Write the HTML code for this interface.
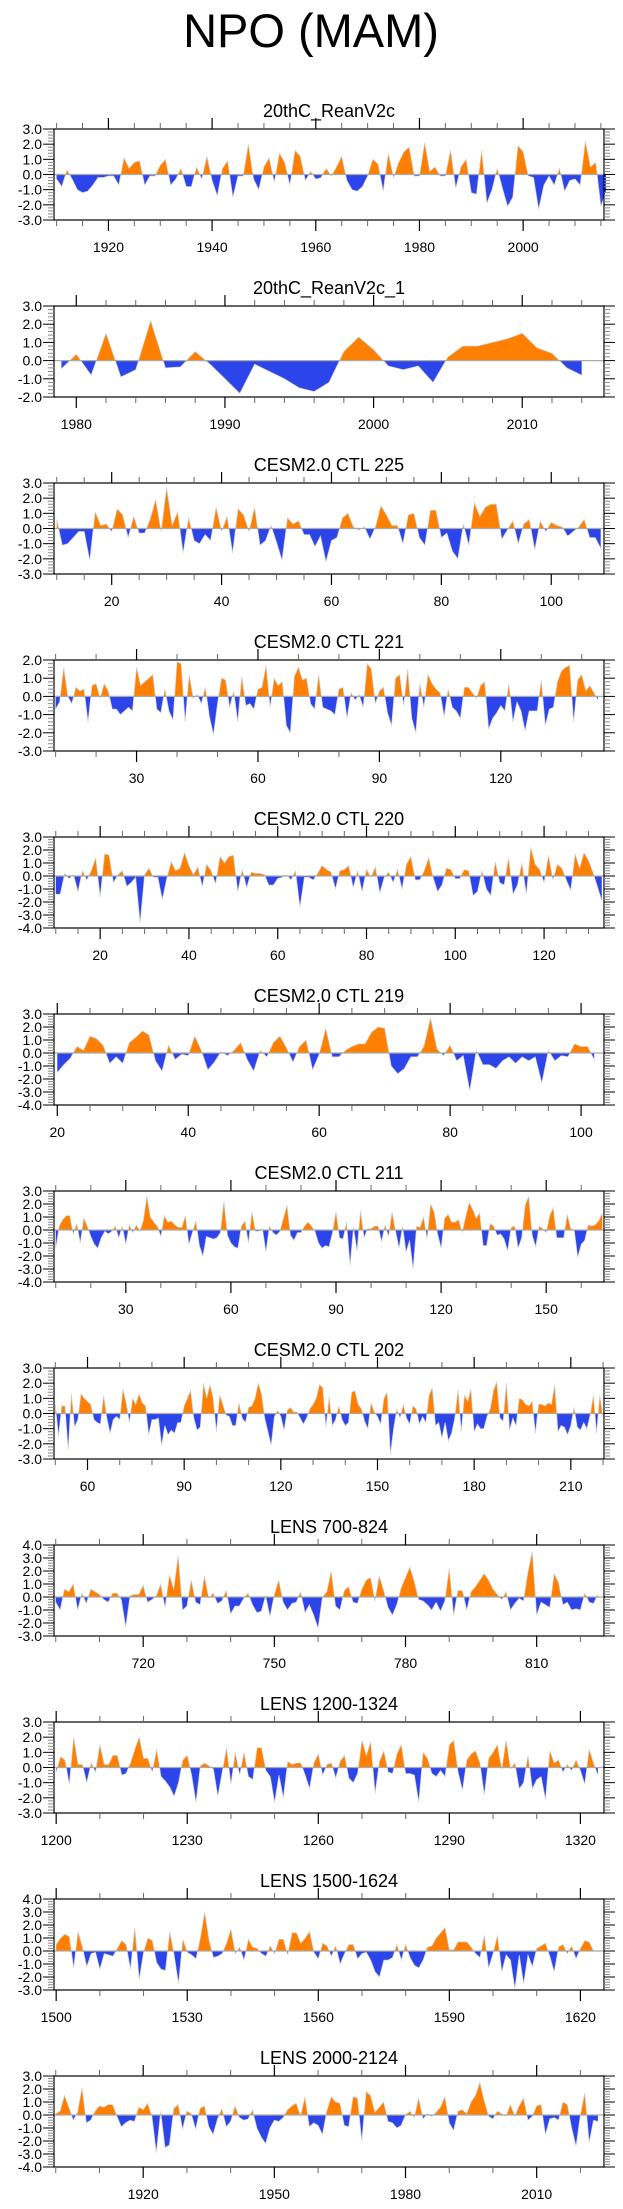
<!DOCTYPE html>
<html><head><meta charset="utf-8"><title>NPO (MAM)</title>
<style>
html,body{margin:0;padding:0;background:#fff;}
svg{display:block;font-family:"Liberation Sans",Arial,sans-serif;}
</style></head>
<body>
<svg id="chart" width="623" height="2209" viewBox="0 0 623 2209" xmlns="http://www.w3.org/2000/svg">
<text x="311" y="47" font-size="47" text-anchor="middle" fill="#000">NPO (MAM)</text>
</svg>
<script>
// ---- data arrays ----
const titles = ["20thC_ReanV2c","20thC_ReanV2c_1","CESM2.0 CTL 225","CESM2.0 CTL 221","CESM2.0 CTL 220","CESM2.0 CTL 219","CESM2.0 CTL 211","CESM2.0 CTL 202","LENS 700-824","LENS 1200-1324","LENS 1500-1624","LENS 2000-2124"];
const startYears = [1910,1979,10,10,10,20,10,50,700,1200,1500,1900];
const xMins = [1909.5,1978.5,9.5,9.6,9.6,19.5,9.5,49.6,699.6,1199.5,1499.5,1899.6];
const xMaxs = [2015.6,2015.5,109.6,145.5,133.5,103.5,166.5,220.3,825.4,1325.4,1625.4,2025.4];
const yMins = [-3,-2,-3,-3,-4,-4,-4,-3,-3,-3,-3,-4];
const yMaxs = [3,3,3,2,3,3,3,3,4,3,4,3];
const majorSteps = [20,10,20,30,20,20,30,30,30,30,30,30];
const minorSteps = [5,2,5,10,5,5,10,10,10,10,10,10];

const s0 = [-0.3,-0.8,0.3,-0.3,-1.0,-1.2,-1.1,-0.7,-0.2,-0.2,-0.1,-0.1,-0.7,1.1,0.4,0.8,0.9,-0.7,-0.1,-0.1,0.6,1.0,-0.7,-0.3,0.4,-0.8,-0.8,0.5,-0.3,1.2,-0.4,-1.4,0.4,0.9,-1.5,-0.1,-0.1,2.0,-0.3,-1.0,0.5,1.1,-0.5,1.4,0.8,-0.7,1.6,1.2,-0.4,0.2,-0.3,-0.2,0.4,-0.1,0.5,1.2,-0.4,-1.0,-1.1,-0.8,-0.1,1.0,0.7,-1.1,1.4,-0.2,0.8,1.5,1.8,-0.1,-0.1,2.1,0.2,0.5,-0.1,-0.1,1.6,-0.9,0.5,1.0,-1.2,-1.3,1.6,-1.9,-1.0,0.4,-0.9,-2.1,-1.5,1.9,1.5,-0.1,-0.2,-2.3,-0.7,-0.1,-0.7,0.4,-1.1,-0.4,-0.3,-0.7,2.2,0.5,0.8,-2.1,-1.1];
const s1 = [-0.45,0.35,-0.8,1.5,-0.9,-0.5,2.2,-0.4,-0.35,0.5,-0.2,-1.0,-1.8,-0.2,-0.6,-1.0,-1.5,-1.7,-1.2,0.5,1.3,0.6,-0.3,-0.5,-0.3,-1.2,0.2,0.8,0.8,1.0,1.2,1.5,0.7,0.4,-0.4,-0.8];
const s2 = [0.6,-1.1,-1.0,-0.6,-0.2,-0.2,-2.1,1.1,0.2,0.3,-0.2,1.3,0.9,-0.6,0.8,-0.3,-0.3,0.6,1.9,-0.2,2.7,0.2,1.1,-1.6,0.7,-0.8,-1.0,-0.4,-0.8,1.4,-0.2,0.8,-1.6,1.3,0.9,-0.2,1.4,-1.1,-0.8,0.2,-0.9,-2.1,0.7,0.3,0.5,-0.4,-0.4,-1.2,-0.5,-2.2,-0.8,-0.6,0.7,1.0,0.1,-0.1,0.1,-0.7,0.1,1.5,0.9,0.2,0.2,-1.0,0.9,1.0,-0.6,-1.1,1.2,1.2,-0.6,-0.3,-1.5,-2.0,0.3,-1.1,1.7,0.8,1.4,1.6,1.6,-0.7,-0.1,0.5,-1.0,0.3,0.6,-1.4,0.5,-0.2,0.4,0.2,0.1,-0.5,-0.2,0.1,0.6,-0.6,-0.6,-1.3];
const s3 = [-0.7,-0.3,1.6,0.0,-0.4,0.5,0.3,0.4,-1.4,0.6,0.7,-0.1,0.7,0.3,-0.7,-0.7,-1.0,-0.8,-0.6,-0.8,1.6,0.6,0.8,1.0,1.2,-0.7,-0.9,0.4,-0.8,-1.3,1.9,1.8,-1.4,1.2,-0.1,0.1,-0.4,0.5,-1.1,-2.1,-0.4,1.0,0.9,-0.6,0.3,-1.4,1.1,-0.5,-0.4,-0.7,0.4,0.5,1.7,-0.6,1.0,0.6,0.8,-1.6,-2.0,1.1,1.6,0.9,1.0,-0.4,-0.7,1.2,-0.6,-0.7,-0.8,-1.0,0.4,0.5,-1.2,0.2,-0.2,0.1,-0.6,1.8,1.5,-0.4,0.3,0.5,-0.9,-1.6,1.0,1.2,-0.5,1.5,-1.2,-2.0,0.7,-0.6,1.2,0.7,0.4,0.2,-1.1,0.4,-0.6,-0.8,-1.2,0.5,0.5,0.2,-0.1,0.6,0.8,-1.8,-1.2,-0.9,-0.5,-0.8,0.7,-1.4,-0.3,-0.8,-1.9,-0.8,-0.8,-0.8,0.9,-1.6,-0.7,-0.6,0.8,1.4,1.6,1.7,-1.4,0.9,1.2,0.3,0.6,0.2,-0.2];
const s4 = [-1.4,-1.4,0.2,-0.2,0.1,-1.2,0.4,-0.3,0.4,1.4,-1.6,1.7,1.6,-0.5,0.1,0.4,-0.8,-0.5,-0.1,-3.6,0.1,0.6,-0.1,-0.1,-1.8,-0.2,1.1,0.4,0.6,1.8,0.8,0.1,0.7,-0.8,0.9,0.4,-0.6,1.5,1.0,1.5,1.6,-1.2,0.5,-0.9,0.3,0.2,0.2,0.1,-0.7,-0.7,-0.2,-0.1,0.1,-0.3,0.4,-2.4,-0.1,-0.1,-0.3,0.2,0.8,0.5,0.3,-1.0,0.4,0.5,0.8,-0.9,0.4,-1.2,0.5,-0.1,0.7,-1.3,-0.1,0.3,-0.5,0.5,-1.0,0.9,1.5,-0.3,-0.3,0.4,1.4,-0.1,-1.2,-0.7,0.6,0.5,-0.2,-0.2,0.5,0.4,-1.5,-1.2,0.4,-1.0,-1.5,1.1,-0.5,-0.7,1.4,-1.4,-0.7,1.0,-1.4,2.2,0.9,0.5,-0.5,1.6,-0.3,0.9,0.6,-0.3,-1.1,1.7,0.6,1.8,1.2,0.3,-0.8,-1.9];
const s5 = [-1.5,-0.9,-0.4,0.5,0.2,1.3,1.1,0.6,-0.8,-0.3,-0.8,0.8,1.2,1.7,1.4,-0.6,-1.4,0.6,-0.5,-0.1,-0.2,1.3,0.2,-1.3,-0.7,0.1,-0.2,0.2,0.8,-0.5,-1.4,0.2,-0.3,0.8,1.3,0.4,-0.7,0.5,1.0,-1.3,-0.1,1.9,-0.3,-0.3,0.2,0.5,0.7,0.7,1.6,2.0,1.9,-1.0,-1.6,-1.2,-0.3,-0.3,0.5,2.7,0.3,-0.2,0.6,-0.6,-0.2,-2.9,0.2,-0.9,-0.9,-1.2,-0.6,-0.3,-0.8,-0.3,-0.6,-0.3,-2.3,0.2,-0.6,-0.2,-0.3,0.7,0.5,0.5,-0.5];
const s6 = [-1.4,0.3,0.8,1.1,1.1,-0.3,0.5,-1.0,0.9,0.3,-0.5,-1.1,-1.4,-0.6,-0.1,-0.3,-0.1,0.3,-0.6,0.3,-1.1,0.4,-0.2,0.4,-0.1,0.7,2.6,1.0,0.6,0.3,-0.5,1.1,0.6,0.7,0.4,0.2,0.2,1.1,-1.1,-0.2,0.7,-1.2,-2.0,-0.5,-0.6,-0.7,-0.6,-0.2,2.2,-0.4,-1.0,-1.3,-1.4,0.3,0.7,-1.0,1.4,-0.1,-0.1,0.1,-1.7,0.3,-0.2,-0.4,-0.1,0.9,1.9,-0.4,-0.8,-0.2,-0.2,0.3,0.6,0.3,-0.1,-1.0,-1.4,-1.2,-1.3,-0.2,1.4,-0.6,-0.7,0.6,-2.7,0.2,-1.6,1.5,-0.6,0.1,0.1,0.3,0.3,-0.9,0.4,-0.5,1.4,-0.1,-1.4,0.3,-1.7,-0.8,-3.0,0.3,0.2,1.0,-0.7,2.0,1.4,-0.3,-1.4,0.9,1.2,0.6,0.6,0.8,-0.2,1.0,2.1,1.6,0.9,1.3,-1.2,-1.2,0.5,0.3,-0.4,-0.3,-0.7,-1.6,0.2,0.3,-1.4,-0.6,1.9,2.6,-0.4,-1.3,0.3,0.1,-0.2,1.1,1.7,-0.6,-0.6,-0.6,1.2,0.1,0.0,-2.1,-1.1,-0.8,0.4,0.3,0.4,0.7,1.3];
const s7 = [0.6,-1.5,0.5,0.5,-2.4,1.3,-0.9,-0.4,1.3,1.0,0.8,0.6,-0.4,-0.6,-0.7,1.2,-0.3,-1.3,-0.4,-0.2,-0.4,1.6,0.7,-0.6,1.0,0.6,1.3,0.7,0.5,-1.4,-0.4,-0.4,-0.3,-2.1,-0.8,-1.4,-1.1,-1.3,-0.6,-0.6,0.5,1.0,1.5,-0.3,-1.1,-0.9,2.0,1.0,1.9,1.0,-1.2,1.2,0.6,-0.1,-0.2,-0.8,-0.8,0.7,-0.3,-0.6,0.4,0.5,1.0,2.0,1.3,-0.3,-1.2,-2.1,-0.2,0.2,-0.2,-1.1,0.2,0.4,0.1,0.1,-0.3,-0.7,-0.3,0.3,0.6,1.0,1.9,1.7,-0.9,1.1,-0.8,-0.4,0.5,-0.4,-0.8,-0.6,1.4,1.5,0.6,0.3,-0.5,-1.0,0.7,0.1,-0.2,-0.7,1.0,1.4,-2.7,-1.0,0.3,-0.3,0.6,-0.3,-0.7,0.5,0.3,-0.7,-0.2,-0.6,1.2,1.7,-0.8,-0.6,-1.6,-0.6,-1.8,-1.3,-0.3,1.6,-1.2,1.2,0.8,1.6,-1.2,-0.7,-1.0,-1.0,-0.2,0.3,1.5,2.1,-0.3,-0.5,2.0,-1.1,-0.3,-0.8,1.0,0.9,0.6,0.5,0.8,-1.3,0.6,0.6,0.5,0.7,0.6,1.9,-1.2,-0.8,-0.9,-1.4,-0.8,0.4,-0.9,-1.1,-0.6,-1.0,-0.1,1.2,-1.3,1.2,-0.3];
const s8 = [-0.4,-1.0,0.6,0.4,1.0,-1.0,0.3,-0.5,0.6,0.4,0.2,-0.2,-0.4,0.3,0.3,-0.2,-2.3,0.1,0.2,0.2,0.9,-0.4,-0.2,0.1,1.0,-0.8,1.7,0.6,3.2,-1.0,-0.7,1.3,-0.4,-0.6,1.6,-0.1,0.3,-0.5,-0.3,0.5,-1.3,-0.7,-0.7,-0.1,0.3,-0.6,-1.2,-1.1,0.1,-1.5,0.2,1.3,-0.4,-1.0,-0.5,-0.4,0.4,-1.2,-0.6,-1.4,-2.4,0.0,0.4,2.0,-0.7,-1.0,0.5,0.8,-0.4,-0.5,0.6,1.3,1.5,-0.3,1.6,0.5,-0.8,-1.4,-0.6,0.7,1.5,2.3,1.2,-0.2,-0.3,-0.6,-1.0,-0.4,-1.1,-0.3,2.2,-1.4,0.5,0.5,-1.0,0.4,0.8,1.3,1.8,1.3,0.6,0.2,-0.2,0.4,-1.0,-0.5,-0.1,-0.3,1.9,3.5,-1.4,-0.4,-0.6,-0.8,1.8,1.1,-0.6,-0.4,-1.0,-0.9,-1.0,0.3,-0.4,-0.5,0.2];
const s9 = [-0.3,0.7,0.5,-1.1,2.0,0.2,0.2,-1.0,0.3,-0.3,1.5,0.2,0.2,0.8,0.8,-0.5,-0.4,0.3,1.2,2.0,0.6,0.6,-0.3,1.2,-0.6,-0.9,-1.3,-1.9,-1.0,0.5,0.8,-0.5,-2.3,0.1,0.3,0.1,-0.1,-1.9,-0.3,1.3,-1.1,1.0,-0.5,1.0,-0.6,-0.8,1.3,1.3,-0.2,-0.6,-2.3,-0.5,-2.0,0.4,0.2,0.3,0.3,-0.5,-1.4,0.3,0.9,-0.5,0.2,0.3,-0.7,0.4,0.8,-0.7,-1.0,-0.4,1.8,0.8,1.7,-1.7,0.4,1.1,-0.3,-0.4,0.9,1.5,-0.4,-0.4,-0.5,-2.3,1.0,0.6,-0.4,-0.6,-0.2,-0.6,1.5,1.8,-0.3,-1.5,0.5,0.9,1.1,0.3,-1.8,0.6,1.0,1.5,-0.1,1.8,-0.1,0.3,-1.4,-1.0,0.8,-1.4,-0.8,-0.6,-2.1,1.1,0.3,0.5,-0.3,0.2,-0.2,0.5,-0.2,-1.1,1.2,0.3,-0.5];
const s10 = [0.5,1.0,1.3,1.1,-1.3,1.5,0.3,-1.2,-0.2,-0.1,-1.4,-0.2,-0.3,-0.4,0.2,0.8,0.5,-1.4,1.8,-2.2,-0.1,1.0,0.8,-0.9,-1.4,-1.5,1.5,-0.3,-2.5,0.9,-0.1,-0.3,-0.6,1.0,3.0,0.8,-0.5,-0.4,-0.2,0.6,1.7,-0.2,0.3,-0.7,0.9,0.3,0.2,-0.2,-0.4,0.4,-0.2,0.9,0.9,-0.3,1.4,1.4,0.6,1.0,1.5,-0.1,-0.6,0.6,0.4,-0.4,0.4,-1.0,-0.2,0.5,0.5,-0.6,-0.2,-0.1,-0.7,-1.6,-2.0,-0.7,-0.7,-0.5,0.5,-0.7,0.5,-0.5,-1.1,-1.3,-0.7,0.3,0.4,1.0,1.4,1.8,0.1,0.1,0.7,0.7,0.7,0.3,-0.2,-0.5,1.2,-1.3,-0.2,1.2,-1.6,-0.3,-0.7,-2.9,-0.3,-2.5,-0.3,-1.2,0.2,0.4,0.6,-0.4,-1.6,0.3,0.5,-0.2,0.4,-0.6,0.2,0.8,0.7,0.0];
const s11 = [0.1,0.3,1.5,0.6,-0.4,0.2,2.1,-0.6,-0.4,0.3,0.7,0.6,0.8,0.8,-0.1,-0.9,-0.6,-0.4,-0.5,0.6,0.4,0.9,-0.1,-2.9,0.3,-2.5,-2.3,0.5,0.8,-1.1,0.3,0.1,-1.1,0.5,0.7,-0.9,-1.5,-0.3,0.5,-0.9,-0.5,0.7,-0.2,-0.4,-0.3,0.4,-1.0,-1.7,-2.2,-1.0,-0.4,-0.5,-0.2,0.4,0.7,0.9,-0.1,1.4,-0.9,-0.6,-0.8,-1.5,0.3,1.4,1.0,0.9,-0.8,-0.9,1.4,1.3,-2.0,1.8,1.5,0.2,0.6,1.0,-0.5,-0.6,-1.0,-0.8,0.0,0.3,-0.2,1.3,-0.3,0.1,-0.1,0.2,0.6,1.4,-0.6,-1.2,0.3,0.4,0.1,1.0,1.5,2.5,1.1,-0.1,-0.3,0.3,0.1,-0.1,0.8,-0.1,0.7,1.3,-0.4,-0.1,0.7,0.8,-1.5,-0.3,-0.2,-0.4,1.0,0.8,-1.0,-2.4,0.0,1.7,-2.1,-0.4,-0.5];
const series = [s0,s1,s2,s3,s4,s5,s6,s7,s8,s9,s10,s11];

// ---- layout ----
const NS = "http://www.w3.org/2000/svg";
const svg = document.getElementById('chart');
const LEFT = 54, RIGHT = 604, TOP0 = 129, PITCH = 177, H = 91;
const ORANGE = "#ff8000", BLUE = "#2b45ea";
function mk(tag, attrs, parent){ const e=document.createElementNS(NS,tag); for(const k in attrs) e.setAttribute(k,attrs[k]); (parent||svg).appendChild(e); return e; }
function fmt(v){ return v.toFixed(1); }

for (let p=0; p<12; p++){
  const top = TOP0 + p*PITCH, bot = top + H;
  const x0=xMins[p], x1=xMaxs[p], y0=yMins[p], y1=yMaxs[p];
  const xs = v => LEFT + (v-x0)/(x1-x0)*(RIGHT-LEFT);
  const ys = v => bot - (v-y0)/(y1-y0)*H;
  const g = mk('g',{});
  
  

  const t = mk('text',{x:(LEFT+RIGHT)/2, y:top-12, 'font-size':18, 'text-anchor':'middle', fill:'#000'}, g);
  
  
  t.textContent = titles[p];

  // fills
  const vals = series[p], st = startYears[p];
  const pts = vals.map((v,i)=>[st+i, v]);
  let pos = "", neg = "";
  const z = ys(0);
  for (let i=0;i<pts.length-1;i++){
    const [xa,va]=pts[i], [xb,vb]=pts[i+1];
    const X=a=>xs(a).toFixed(2), Y=b=>ys(b).toFixed(2);
    if ((va>=0 && vb>=0) || (va<=0 && vb<=0)){
      const poly = `M${X(xa)},${z}L${X(xa)},${Y(va)}L${X(xb)},${Y(vb)}L${X(xb)},${z}Z`;
      if (va+vb>=0) pos+=poly; else neg+=poly;
    } else {
      const xc = xa + (xb-xa)*(va/(va-vb));
      const p1 = `M${X(xa)},${z}L${X(xa)},${Y(va)}L${X(xc)},${z}Z`;
      const p2 = `M${X(xc)},${z}L${X(xb)},${Y(vb)}L${X(xb)},${z}Z`;
      if (va>0){ pos+=p1; neg+=p2; } else { neg+=p1; pos+=p2; }
    }
  }
  const fp = mk('path',{d:pos, fill:ORANGE}, g);
  
  
  const fn = mk('path',{d:neg, fill:BLUE}, g);
  
  
  const line = mk('polyline',{points:pts.map(q=>xs(q[0]).toFixed(2)+','+ys(q[1]).toFixed(2)).join(' '), fill:'none', stroke:'#d0d0d0', 'stroke-width':0.7}, g);
  
  
  const zl = mk('line',{x1:LEFT, x2:RIGHT, y1:z, y2:z, stroke:'#aaaaaa', 'stroke-width':1.3}, g);
  
  

  // box
  const box = mk('rect',{x:LEFT, y:top, width:RIGHT-LEFT, height:H, fill:'none', stroke:'#000', 'stroke-width':1.2}, g);
  
  

  // x ticks
  const ms = minorSteps[p], Ms = majorSteps[p];
  for (let v=Math.ceil(x0/ms)*ms; v<=x1; v+=ms){
    const X = xs(v), major = (Math.round(v)%Ms===0);
    const len = major?11:6, col = major?'#000':'#666';
    mk('line',{x1:X,x2:X,y1:bot,y2:bot+len,stroke:col,'stroke-width':major?1.2:1}, g);
    mk('line',{x1:X,x2:X,y1:top,y2:top-len,stroke:col,'stroke-width':major?1.2:1}, g);
    if (major){
      const tl = mk('text',{x:X, y:bot+32, 'font-size':14, 'text-anchor':'middle', fill:'#000'}, g);
      
      
      tl.textContent = String(v);
    }
  }
  // y ticks
  for (let k=Math.round(y0*5); k<=Math.round(y1*5); k++){
    const v = k/5, Y = ys(v), major = (k%5===0);
    const len = major?11:6, col = major?'#000':'#888';
    mk('line',{x1:LEFT,x2:LEFT-len,y1:Y,y2:Y,stroke:col,'stroke-width':1}, g);
    mk('line',{x1:RIGHT,x2:RIGHT+len,y1:Y,y2:Y,stroke:col,'stroke-width':1}, g);
    if (major){
      const yl = mk('text',{x:42, y:Y+5, 'font-size':14, 'text-anchor':'end', fill:'#000'}, g);
      
      
      yl.textContent = fmt(v);
    }
  }
}
</script>
</body></html>
